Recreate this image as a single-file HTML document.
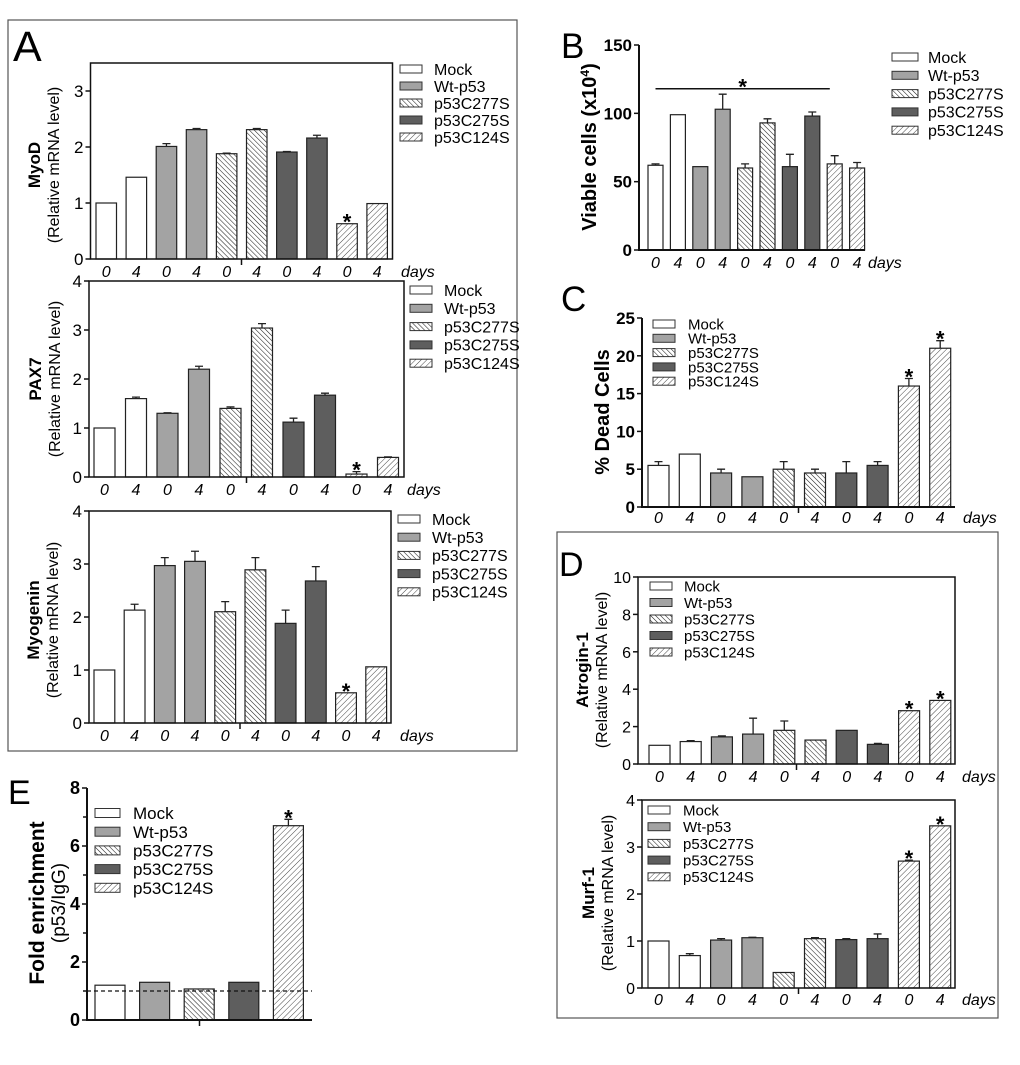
<!DOCTYPE html>
<html><head><meta charset="utf-8"><style>
html,body{margin:0;padding:0;background:#fff}
svg{display:block;font-family:"Liberation Sans",Arial,sans-serif}
</style></head><body>
<svg id="fig" width="1020" height="1065" viewBox="0 0 1020 1065" xmlns="http://www.w3.org/2000/svg">
<defs>
<pattern id="hatchBack" patternUnits="userSpaceOnUse" width="3.5" height="3.5" patternTransform="rotate(-45)">
<rect width="3.5" height="3.5" fill="#fff"/><line x1="0" y1="0" x2="0" y2="3.5" stroke="#222" stroke-width="1.1"/></pattern>
<pattern id="hatchFwd" patternUnits="userSpaceOnUse" width="4" height="4" patternTransform="rotate(45)">
<rect width="4" height="4" fill="#fff"/><line x1="0" y1="0" x2="0" y2="4" stroke="#333" stroke-width="0.9"/></pattern>
</defs>
<rect x="8" y="20" width="509" height="731" fill="none" stroke="#555" stroke-width="1.2"/>
<rect x="557" y="532" width="441" height="486" fill="none" stroke="#555" stroke-width="1.2"/>
<text x="13" y="61" font-size="43">A</text>
<text x="561" y="58" font-size="35">B</text>
<text x="561" y="311" font-size="35">C</text>
<text x="559" y="576" font-size="34">D</text>
<text x="8" y="804" font-size="34">E</text>
</svg>
<script>
const dayLabels = ['0','4','0','4','0','4','0','4','0','4'];
const seriesNames = ['Mock','Wt-p53','p53C277S','p53C275S','p53C124S'];
const barSeries = [0,0,1,1,2,2,3,3,4,4];
const myodValues = [1.0,1.46,2.01,2.31,1.88,2.31,1.91,2.16,0.63,0.99];
const myodErrors = [1.0,1.46,2.06,2.33,1.89,2.33,1.92,2.21,0.63,0.99];
const myodStars = [8];
const myodTicks = [0,1,2,3];
const pax7Values = [1.0,1.6,1.3,2.2,1.4,3.04,1.12,1.67,0.06,0.4];
const pax7Errors = [1.0,1.63,1.31,2.26,1.43,3.13,1.2,1.71,0.11,0.41];
const pax7Stars = [8];
const pax7Ticks = [0,1,2,3,4];
const myogValues = [1.0,2.13,2.97,3.05,2.1,2.89,1.88,2.68,0.57,1.06];
const myogErrors = [1.0,2.24,3.12,3.24,2.29,3.12,2.13,2.95,0.57,1.06];
const myogStars = [8];
const myogTicks = [0,1,2,3,4];
const viableValues = [62,99,61,103,60,93,61,98,63,60];
const viableErrors = [63,99,61,114,63,96,70,101,69,64];
const viableTicks = [0,50,100,150];
const viableSigLevel = 118;
const viableSigRange = [0,7];
const deadValues = [5.5,7.0,4.5,4.0,5.0,4.5,4.5,5.5,16,21];
const deadErrors = [6.0,7.0,5.0,4.0,6.0,5.0,6.0,6.0,17,22];
const deadStars = [8,9];
const deadTicks = [0,5,10,15,20,25];
const atroValues = [1.0,1.2,1.45,1.6,1.8,1.28,1.8,1.05,2.85,3.4];
const atroErrors = [1.0,1.25,1.5,2.45,2.3,1.28,1.8,1.1,2.85,3.4];
const atroStars = [8,9];
const atroTicks = [0,2,4,6,8,10];
const murfValues = [1.0,0.69,1.02,1.07,0.33,1.05,1.03,1.05,2.7,3.45];
const murfErrors = [1.0,0.73,1.05,1.08,0.33,1.07,1.05,1.15,2.72,3.45];
const murfStars = [8,9];
const murfTicks = [0,1,2,3,4];
const enrichSeries = [0,1,2,3,4];
const enrichValues = [1.2,1.3,1.07,1.3,6.7];
const enrichErrors = [1.2,1.3,1.07,1.3,6.92];
const enrichStars = [4];
const enrichTicks = [0,2,4,6,8];
const enrichMinorTicks = [1,3,5,7];
const enrichBaseline = 1.0;

const NS='http://www.w3.org/2000/svg';
const svg=document.getElementById('fig');
const fills=['#ffffff','#a3a3a3','url(#hatchBack)','#5e5e5e','url(#hatchFwd)'];
function mk(tag,attrs,parent){const e=document.createElementNS(NS,tag);for(const k in attrs)e.setAttribute(k,attrs[k]);(parent||svg).appendChild(e);return e;}
function txt(s,attrs,parent){const e=mk('text',attrs,parent);e.textContent=s;return e;}

function panel(o){
  const g=mk('g',{});
  
  
  const y=v=>o.base-v/o.max*(o.base-o.top);
  const bx=i=>o.first+i*o.spacing;
  o.vals.forEach((v,i)=>{
    const s=o.series[i];
    const r=mk('rect',{x:bx(i),y:y(v),width:o.bw,height:o.base-y(v),fill:fills[s],stroke:'#222','stroke-width':1.2},g);
    
    
    const e=o.errs[i];
    if(e>v){
      const cx=bx(i)+o.bw/2;
      const l=mk('path',{d:`M${cx},${y(v)}V${y(e)}M${cx-4},${y(e)}H${cx+4}`,stroke:'#222','stroke-width':1.3,fill:'none'},g);
      
      
    }
  });
  (o.stars||[]).forEach(i=>{
    const t=txt('*',{x:bx(i)+o.bw/2,y:y(Math.max(o.vals[i],o.errs[i]))+6,'text-anchor':'middle','font-size':22,'font-weight':'bold'},g);
    
    
  });
  if(o.sig){
    const x1=bx(o.sig.range[0])+o.bw/2, x2=bx(o.sig.range[1])+o.bw+10, yy=y(o.sig.level);
    const l=mk('line',{x1:x1,x2:x2,y1:yy,y2:yy,stroke:'#111','stroke-width':1.5},g);
    
    
    const t=txt('*',{x:(x1+x2)/2,y:yy+6,'text-anchor':'middle','font-size':22,'font-weight':'bold'},g);
    
    
  }
  if(o.frame){mk('rect',{x:o.left,y:o.top,width:o.right-o.left,height:o.base-o.top,fill:'none',stroke:'#111','stroke-width':1.5},g);}
  else{mk('path',{d:`M${o.left},${o.top}V${o.base}H${o.right}`,fill:'none',stroke:'#111','stroke-width':2},g);}
  const ya=mk('g',{},g);
  
  
  o.ticks.forEach(t=>{
    mk('line',{x1:o.left-5,x2:o.left,y1:y(t),y2:y(t),stroke:'#111','stroke-width':1.5},ya);
    const l=txt(String(t),{x:o.left-7,y:y(t)+6,'text-anchor':'end','font-size':o.tfs,'font-weight':o.tbold?'bold':'normal'},ya);
    
    
  });
  (o.minor||[]).forEach(t=>{mk('line',{x1:o.left-4,x2:o.left,y1:y(t),y2:y(t),stroke:'#111','stroke-width':1.5},ya);});
  if(o.midTick){const m=(o.left+o.right)/2;mk('line',{x1:m,x2:m,y1:o.base,y2:o.base+6,stroke:'#111','stroke-width':1.5},g);}
  if(o.labelY){
    o.vals.forEach((v,i)=>{
      const l=txt(dayLabels[i],{x:bx(i)+o.bw/2,y:o.labelY,'text-anchor':'middle','font-size':16,'font-style':'italic'},g);
      
      
    });
    const d=txt('days',{x:o.daysX,y:o.labelY,'font-size':16,'font-style':'italic'},g);
    
    
  }
  if(o.baseline!==undefined){
    const bl=mk('line',{x1:o.left,x2:o.right,y1:y(o.baseline),y2:y(o.baseline),stroke:'#111','stroke-width':1.2,'stroke-dasharray':'4,3'},g);
    
    
  }
  const yt=mk('g',{transform:`translate(${o.ytx},${o.yty}) rotate(-90)`},g);
  
  
  o.ytitle.forEach((ln,k)=>{
    const t=txt(ln.t,{x:0,y:ln.dy,'text-anchor':'middle','font-size':ln.fs,'font-weight':ln.b?'bold':'normal'},yt);
    if(ln.sup){const s=mk('tspan',{'baseline-shift':'super','font-size':ln.fs*0.6},t);s.textContent=ln.sup;const s2=mk('tspan',{},t);s2.textContent=')';}
  });
  const lg=mk('g',{},g);
  
  
  seriesNames.forEach((n,k)=>{
    const cy=o.lg.y+k*o.lg.dy;
    const e=mk('g',{},lg);
    
    
    mk('rect',{x:o.lg.x,y:cy-o.lg.h/2,width:o.lg.w,height:o.lg.h,fill:fills[k],stroke:'#333','stroke-width':1},e);
    txt(n,{x:o.lg.tx,y:cy+o.lg.fs*0.36,'font-size':o.lg.fs},e);
  });
}
const rel=(gene)=>[{t:gene,b:true,fs:17,dy:0},{t:'(Relative mRNA level)',fs:16,dy:19}];

panel({name:'myod-chart',left:90.5,right:392.5,top:63,base:259,max:3.5,ticks:myodTicks,tfs:17,vals:myodValues,errs:myodErrors,stars:myodStars,series:barSeries,first:96,spacing:30.1,bw:20.5,frame:true,midTick:true,labelY:277,daysX:401,ytx:40,yty:165,ytitle:rel('MyoD'),lg:{x:400,y:69,dy:17,w:22,h:8,tx:434,fs:16}});
panel({name:'pax7-chart',left:89,right:404,top:281,base:477,max:4,ticks:pax7Ticks,tfs:17,vals:pax7Values,errs:pax7Errors,stars:pax7Stars,series:barSeries,first:94,spacing:31.5,bw:21,frame:true,midTick:true,labelY:495,daysX:407,ytx:41,yty:379,ytitle:rel('PAX7'),lg:{x:410,y:290,dy:18.3,w:22,h:8,tx:444,fs:16}});
panel({name:'myogenin-chart',left:89,right:391,top:511,base:723,max:4,ticks:myogTicks,tfs:17,vals:myogValues,errs:myogErrors,stars:myogStars,series:barSeries,first:94,spacing:30.2,bw:20.8,frame:true,midTick:true,labelY:741,daysX:400,ytx:39,yty:620,ytitle:rel('Myogenin'),lg:{x:398,y:519,dy:18.2,w:22,h:8,tx:432,fs:16}});
panel({name:'viable-cells-chart',left:639,right:865,top:45,base:250,max:150,ticks:viableTicks,tfs:17,tbold:true,vals:viableValues,errs:viableErrors,stars:[],sig:{level:viableSigLevel,range:viableSigRange},series:barSeries,first:648,spacing:22.4,bw:15,frame:false,midTick:false,labelY:268,daysX:868,ytx:596,yty:147,ytitle:[{t:'Viable cells (x10',sup:'4',b:true,fs:20,dy:0}],lg:{x:892,y:57,dy:18.3,w:26,h:8,tx:928,fs:16}});
panel({name:'dead-cells-chart',left:642,right:955,top:318,base:507,max:25,ticks:deadTicks,tfs:17,tbold:true,vals:deadValues,errs:deadErrors,stars:deadStars,series:barSeries,first:648,spacing:31.3,bw:21,frame:false,midTick:true,labelY:523,daysX:963,ytx:609,yty:412,ytitle:[{t:'% Dead Cells',b:true,fs:20,dy:0}],lg:{x:653,y:324,dy:14.3,w:22,h:8,tx:688,fs:15}});
panel({name:'atrogin-chart',left:638,right:955,top:577,base:764,max:10,ticks:atroTicks,tfs:16,vals:atroValues,errs:atroErrors,stars:atroStars,series:barSeries,first:649,spacing:31.2,bw:21,frame:true,midTick:true,labelY:782,daysX:962,ytx:588,yty:670,ytitle:rel('Atrogin-1'),lg:{x:650,y:586,dy:16.5,w:22,h:8,tx:684,fs:15}});
panel({name:'murf1-chart',left:642,right:955,top:800,base:988,max:4,ticks:murfTicks,tfs:16,vals:murfValues,errs:murfErrors,stars:murfStars,series:barSeries,first:648,spacing:31.3,bw:21,frame:true,midTick:true,labelY:1005,daysX:962,ytx:594,yty:893,ytitle:rel('Murf-1'),lg:{x:648,y:810,dy:16.7,w:22,h:8,tx:683,fs:15}});
panel({name:'fold-enrichment-chart',left:87,right:312,top:788,base:1020,max:8,ticks:enrichTicks,minor:enrichMinorTicks,tfs:18,tbold:true,vals:enrichValues,errs:enrichErrors,stars:enrichStars,series:enrichSeries,first:95,spacing:44.6,bw:30,frame:false,midTick:true,baseline:enrichBaseline,ytx:44,yty:903,ytitle:[{t:'Fold enrichment',b:true,fs:21,dy:0},{t:'(p53/IgG)',fs:19,dy:21}],lg:{x:95,y:813,dy:18.7,w:25,h:9,tx:133,fs:17}});
</script>
</body></html>
